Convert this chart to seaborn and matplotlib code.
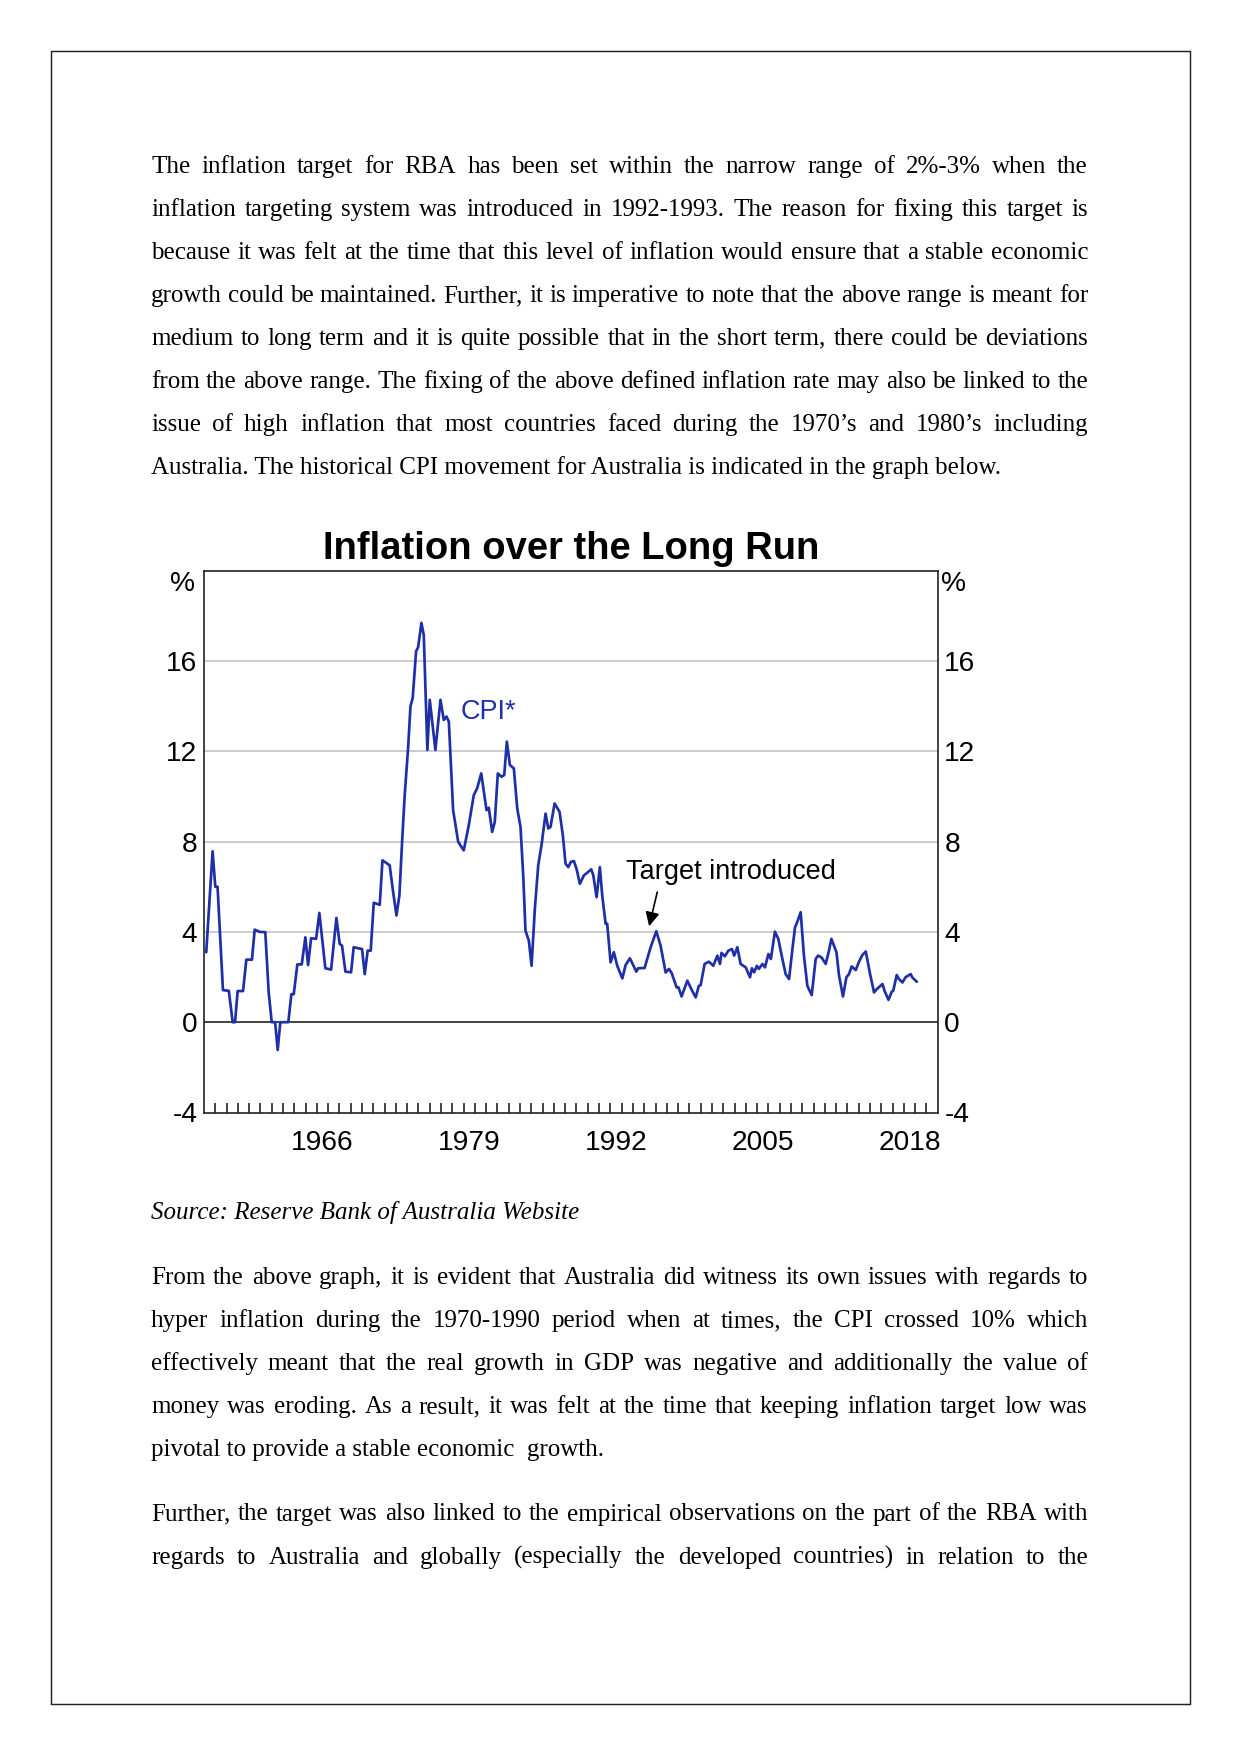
import numpy as np
import pandas as pd
import matplotlib
matplotlib.use('Agg')
import matplotlib.pyplot as plt
import seaborn as sns
from matplotlib.patches import Rectangle

# --- datos del grafico ---
anios = [
    1956.2, 1956.76, 1957.0, 1957.2, 1957.68, 1958.2, 1958.54, 1958.75, 1958.98, 1959.46,
    1959.75, 1960.25, 1960.49, 1960.93, 1961.43, 1961.73, 1962.0, 1962.3, 1962.53, 1962.76,
    1963.47, 1963.74, 1963.95, 1964.27, 1964.66, 1964.98, 1965.22, 1965.49, 1965.93, 1966.22,
    1966.75, 1967.26, 1967.73, 1968.02, 1968.23, 1968.53, 1969.03, 1969.26, 1970.0, 1970.24,
    1970.5, 1970.77, 1971.04, 1971.57, 1971.81, 1972.45, 1972.72, 1973.05, 1973.31, 1973.55,
    1973.78, 1974.08, 1974.29, 1974.49, 1974.79, 1974.97, 1975.26, 1975.47, 1975.79, 1976.0,
    1976.5, 1976.95, 1977.24, 1977.48, 1977.69, 1978.07, 1978.52, 1979.01, 1979.46, 1979.9,
    1980.2, 1980.56, 1981.03, 1981.23, 1981.53, 1981.76, 1982.03, 1982.36, 1982.6, 1982.83,
    1983.1, 1983.45, 1983.75, 1984.04, 1984.28, 1984.48, 1984.78, 1985.02, 1985.31, 1985.61,
    1985.9, 1986.26, 1986.5, 1986.7, 1987.06, 1987.5, 1987.79, 1988.03, 1988.27, 1988.5,
    1988.77, 1989.0, 1989.3, 1989.65, 1990.31, 1990.49, 1990.78, 1991.07, 1991.28, 1991.58,
    1991.72, 1992.02, 1992.31, 1992.61, 1993.06, 1993.35, 1993.73, 1993.88, 1994.3, 1994.47,
    1995.03, 1995.57, 1996.07, 1996.45, 1996.9, 1997.19, 1997.43, 1997.87, 1998.04, 1998.31,
    1998.82, 1999.17, 1999.56, 1999.84, 2000.0, 2000.35, 2000.73, 2001.12, 2001.48, 2001.71,
    2001.85, 2002.15, 2002.45, 2002.77, 2002.97, 2003.25, 2003.54, 2003.99, 2004.37, 2004.54,
    2004.74, 2004.98, 2005.16, 2005.47, 2005.7, 2006.0, 2006.22, 2006.58, 2006.88, 2007.24,
    2007.53, 2007.83, 2008.13, 2008.36, 2008.5, 2008.86, 2009.15, 2009.45, 2009.84, 2010.19,
    2010.4, 2010.71, 2011.08, 2011.37, 2011.58, 2012.03, 2012.26, 2012.61, 2012.91, 2013.14,
    2013.38, 2013.74, 2014.03, 2014.33, 2014.63, 2015.01, 2015.36, 2015.61, 2016.11, 2016.29,
    2016.64, 2016.93, 2017.06, 2017.37, 2017.57, 2017.88, 2018.15, 2018.61, 2018.74, 2019.15,
]
cpi = [
    3.1, 7.57, 6.0, 6.0, 1.42, 1.39, 0.0, 0.0, 1.38, 1.38,
    2.77, 2.77, 4.1, 4.0, 3.99, 1.32, 0.0, 0.0, -1.23, 0.0,
    0.0, 1.24, 1.24, 2.56, 2.56, 3.76, 2.53, 3.72, 3.69, 4.84,
    2.39, 2.33, 4.62, 3.47, 3.39, 2.24, 2.21, 3.32, 3.24, 2.13,
    3.17, 3.17, 5.29, 5.2, 7.17, 6.95, 5.9, 4.73, 5.61, 7.99,
    10.06, 12.13, 13.99, 14.36, 16.43, 16.61, 17.69, 17.14, 12.06, 14.28,
    12.06, 14.28, 13.39, 13.54, 13.32, 9.39, 7.99, 7.61, 8.73, 10.06,
    10.36, 11.02, 9.39, 9.5, 8.43, 8.87, 11.02, 10.87, 10.95, 12.43,
    11.39, 11.24, 9.47, 8.65, 6.5, 4.06, 3.61, 2.5, 5.02, 6.95,
    7.84, 9.24, 8.58, 8.65, 9.69, 9.32, 8.28, 7.02, 6.87, 7.1,
    7.14, 6.8, 6.13, 6.5, 6.77, 6.5, 5.54, 6.87, 5.61, 4.36,
    4.36, 2.65, 3.1, 2.5, 1.94, 2.53, 2.83, 2.68, 2.24, 2.39,
    2.4, 3.32, 4.03, 3.39, 2.2, 2.36, 2.18, 1.54, 1.54, 1.14,
    1.84, 1.47, 1.1, 1.61, 1.64, 2.58, 2.68, 2.5, 2.95, 2.58,
    3.07, 2.92, 3.17, 3.24, 2.95, 3.32, 2.58, 2.43, 1.99, 2.39,
    2.21, 2.5, 2.36, 2.58, 2.43, 3.02, 2.8, 4.01, 3.69, 2.8,
    2.13, 1.91, 3.24, 4.21, 4.36, 4.87, 2.95, 1.61, 1.2, 2.8,
    2.95, 2.87, 2.58, 3.17, 3.69, 3.1, 2.06, 1.14, 1.99, 2.13,
    2.47, 2.31, 2.68, 2.98, 3.13, 2.13, 1.32, 1.47, 1.69, 1.39,
    0.99, 1.35, 1.39, 2.09, 1.91, 1.76, 1.99, 2.13, 1.99, 1.79,
]
ticks_y = [-4, 0, 4, 8, 12, 16]
etiquetas_x = ['1966', '1979', '1992', '2005', '2018']

parrafo_1 = [
    "The inflation target for RBA has been set within the narrow range of 2%-3% when the",
    "inflation targeting system was introduced in 1992-1993. The reason for fixing this target is",
    "because it was felt at the time that this level of inflation would ensure that a stable economic",
    "growth could be maintained. Further, it is imperative to note that the above range is meant for",
    "medium to long term and it is quite possible that in the short term, there could be deviations",
    "from the above range. The fixing of the above defined inflation rate may also be linked to the",
    "issue of high inflation that most countries faced during the 1970\u2019s and 1980\u2019s including",
    "Australia. The historical CPI movement for Australia is indicated in the graph below.",
]
parrafo_2 = [
    "From the above graph, it is evident that Australia did witness its own issues with regards to",
    "hyper inflation during the 1970-1990 period when at times, the CPI crossed 10% which",
    "effectively meant that the real growth in GDP was negative and additionally the value of",
    "money was eroding. As a result, it was felt at the time that keeping inflation target low was",
    "pivotal to provide a stable economic  growth.",
]
parrafo_3 = [
    "Further, the target was also linked to the empirical observations on the part of the RBA with",
    "regards to Australia and globally (especially the developed countries) in relation to the",
]

W, H = 1241, 1754
DPI = 150
SERIF = ['Liberation Serif', 'DejaVu Serif']
SANS = ['Liberation Sans', 'DejaVu Sans']
AZUL = '#1f2fa8'
TAM_EJE = 13.5

sns.set_theme(style='white')
plt.rcParams['font.family'] = SANS
plt.rcParams['text.color'] = 'black'
plt.rcParams['xtick.color'] = 'black'
plt.rcParams['ytick.color'] = 'black'
plt.rcParams['xtick.labelcolor'] = 'black'
plt.rcParams['ytick.labelcolor'] = 'black'

fig = plt.figure(figsize=(W / DPI, H / DPI), dpi=DPI)
fig.patch.set_facecolor('white')


def fy(y):
    return 1 - y / H


# borde de la pagina
fig.patches.append(Rectangle((50.5 / W, fy(1704)), (1189.5 - 50.5) / W, (1704 - 50.5) / H,
                             transform=fig.transFigure, fill=False, edgecolor='#222222', lw=0.7))

X0, X1 = 151, 1088
renderer = fig.canvas.get_renderer()


def escribir_linea(texto, y, justificar=True, estilo='normal'):
    if not justificar:
        fig.text(X0 / W, fy(y), texto, fontsize=12, family=SERIF, style=estilo,
                 va='baseline', ha='left')
        return
    palabras = texto.split(' ')
    arts = [fig.text(0, fy(y), p, fontsize=12, family=SERIF, style=estilo,
                     va='baseline', ha='left') for p in palabras]
    anchos = [a.get_window_extent(renderer).width for a in arts]
    hueco = (X1 - X0 - sum(anchos)) / (len(palabras) - 1)
    x = X0
    for a, w in zip(arts, anchos):
        a.set_x(x / W)
        x += w + hueco


for i, linea in enumerate(parrafo_1):
    escribir_linea(linea, 173.3 + i * 43.0, justificar=(i < len(parrafo_1) - 1))

escribir_linea("Source: Reserve Bank of Australia Website", 1219.5, justificar=False, estilo='italic')

for i, linea in enumerate(parrafo_2):
    escribir_linea(linea, 1284.0 + i * 43.0, justificar=(i < len(parrafo_2) - 1))

for i, linea in enumerate(parrafo_3):
    escribir_linea(linea, 1520.5 + i * 43.5, justificar=True)

# --- grafico ---
AX_L, AX_R, AX_T, AX_B = 204, 937.7, 570.7, 1112.5
ax = fig.add_axes([AX_L / W, fy(AX_B), (AX_R - AX_L) / W, (AX_B - AX_T) / H])

df = pd.DataFrame({'anio': anios, 'cpi': cpi})
sns.lineplot(data=df, x='anio', y='cpi', ax=ax, color=AZUL, lw=1.3, estimator=None, sort=False)

ax.set_xlim(1956, 2021)
ax.set_ylim(-4, 20)
ax.set_xlabel('')
ax.set_ylabel('')

for lado in ['top', 'bottom', 'left', 'right']:
    ax.spines[lado].set_visible(True)
    ax.spines[lado].set_color('#222222')
    ax.spines[lado].set_linewidth(0.8)

for v in [4, 8, 12, 16]:
    ax.axhline(v, color='#c4c4c4', lw=0.8, zorder=0)
ax.axhline(0, color='#222222', lw=0.8, zorder=1)

ax.set_yticks(ticks_y)
ax.set_yticklabels([str(t) for t in ticks_y])
ax.tick_params(axis='y', which='both', length=0, left=False, right=False,
               labelleft=True, labelright=True, labelsize=TAM_EJE, pad=3.2,
               labelcolor='black')

ax.set_xticks(np.arange(1957, 2021))
ax.set_xticklabels([])
ax.tick_params(axis='x', which='major', direction='in', length=4.8, width=0.8,
               color='#222222', bottom=True, top=False)
ax.set_xticks([1966.5, 1979.5, 1992.5, 2005.5, 2018.5], minor=True)
ax.set_xticklabels(etiquetas_x, minor=True)
ax.tick_params(axis='x', which='minor', length=0, pad=8.5, labelsize=TAM_EJE,
               labelcolor='black')

ax.text(-0.012, 19.4, '%', transform=ax.get_yaxis_transform(), ha='right', va='center',
        fontsize=TAM_EJE, color='black')
ax.text(1.004, 19.4, '%', transform=ax.get_yaxis_transform(), ha='left', va='center',
        fontsize=TAM_EJE, color='black')

ax.text(1978.76, 13.42, 'CPI*', color=AZUL, fontsize=13, va='baseline')
ax.text(1993.43, 6.34, 'Target introduced', color='black', fontsize=13, va='baseline')
ax.annotate('', xy=(1995.35, 4.07), xytext=(1996.24, 5.94),
            arrowprops=dict(arrowstyle='-|>', color='black', lw=0.8, mutation_scale=14))

fig.text(570.8 / W, fy(559), 'Inflation over the Long Run', ha='center', va='baseline',
         fontsize=18.3, fontweight='bold', color='black')

plt.savefig('out.png', dpi=DPI, facecolor='white')
